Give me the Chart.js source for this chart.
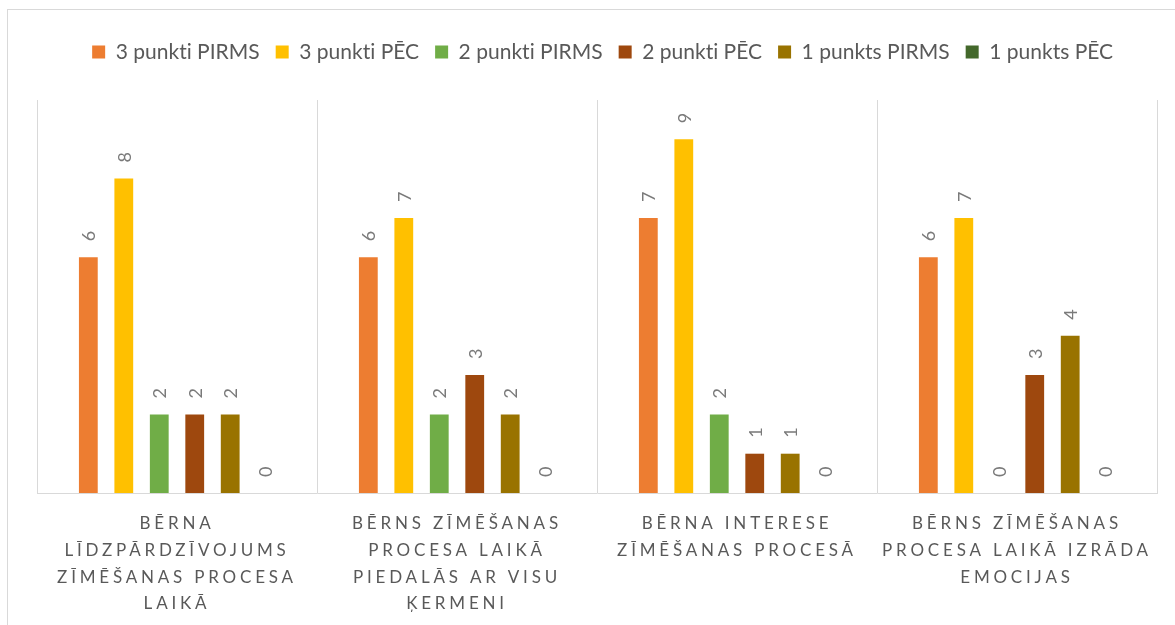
<!DOCTYPE html>
<html>
<head>
<meta charset="utf-8">
<script src="https://cdn.jsdelivr.net/npm/chart.js@4/dist/chart.umd.min.js"></script>
<style>
  html, body { margin: 0; padding: 0; background: #fff; }
  #frame {
    position: absolute; left: 7px; top: 9px; width: 1200px; height: 650px;
    border-left: 1px solid #d9d9d9; border-top: 1px solid #d9d9d9;
  }
  #wrap { position: absolute; left: 0; top: 0; width: 1175px; height: 625px; }
</style>
</head>
<body>
<div id="frame"></div>
<div id="wrap"><canvas id="chart" width="1175" height="625"></canvas></div>
<script>
  // categories (multi-line, as shown on the axis)
  var categories = [
    ['BĒRNA', 'LĪDZPĀRDZĪVOJUMS', 'ZĪMĒŠANAS PROCESA', 'LAIKĀ'],
    ['BĒRNS ZĪMĒŠANAS', 'PROCESA LAIKĀ', 'PIEDALĀS AR VISU', 'ĶERMENI'],
    ['BĒRNA INTERESE', 'ZĪMĒŠANAS PROCESĀ'],
    ['BĒRNS ZĪMĒŠANAS', 'PROCESA LAIKĀ IZRĀDA', 'EMOCIJAS']
  ];

  var seriesNames = ['3 punkti PIRMS', '3 punkti PĒC', '2 punkti PIRMS', '2 punkti PĒC', '1 punkts PIRMS', '1 punkts PĒC'];
  var seriesColors = ['#ED7D31', '#FFC000', '#70AD47', '#9E480E', '#997300', '#43682B'];

  var punkti3Pirms = [6, 6, 7, 6];
  var punkti3Pec = [8, 7, 9, 7];
  var punkti2Pirms = [2, 2, 2, 0];
  var punkti2Pec = [2, 3, 1, 3];
  var punkts1Pirms = [2, 2, 1, 4];
  var punkts1Pec = [0, 0, 0, 0];

  var seriesValues = [punkti3Pirms, punkti3Pec, punkti2Pirms, punkti2Pec, punkts1Pirms, punkts1Pec];

  var FONT = "Lato, 'Noto Sans', sans-serif";
  var TEXT = '#595959';

  // value labels, rotated, above each bar
  var barLabels = {
    id: 'barLabels',
    afterDatasetsDraw: function (chart) {
      var ctx = chart.ctx;
      ctx.save();
      ctx.font = '18px ' + FONT;
      ctx.fillStyle = '#7a7a7a';
      ctx.textAlign = 'left';
      ctx.textBaseline = 'middle';
      chart.data.datasets.forEach(function (ds, i) {
        var meta = chart.getDatasetMeta(i);
        meta.data.forEach(function (bar, j) {
          ctx.save();
          ctx.translate(bar.x + 1, bar.y - 16);
          ctx.rotate(-Math.PI / 2);
          ctx.fillText(String(ds.data[j]), 0, 0);
          ctx.restore();
        });
      });
      ctx.restore();
    }
  };

  // fixed legend height, small legend shift, letter spaced category labels
  var layoutTweaks = {
    id: 'layoutTweaks',
    beforeInit: function (chart) {
      var legend = chart.legend;
      var fit = legend.fit;
      var draw = legend.draw;
      legend.fit = function () {
        fit.call(legend);
        this.height = 74.5;
      };
      legend.draw = function () {
        var ctx = this.ctx;
        ctx.save();
        ctx.translate(6, 0);
        ctx.letterSpacing = '0.01px';
        draw.call(legend);
        ctx.restore();
      };
    },
    beforeDraw: function (chart) {
      var xs = chart.scales.x;
      if (xs && !xs._spaced) {
        var orig = xs.drawLabels;
        xs.drawLabels = function (area) {
          var ctx = this.ctx;
          ctx.save();
          ctx.letterSpacing = '3.8px';
          orig.call(this, area);
          ctx.restore();
        };
        xs._spaced = true;
      }
    }
  };

  var datasets = seriesNames.map(function (name, i) {
    return {
      label: name,
      data: seriesValues[i],
      backgroundColor: seriesColors[i],
      borderWidth: 0,
      categoryPercentage: 0.76,
      barPercentage: 0.53
    };
  });

  new Chart(document.getElementById('chart').getContext('2d'), {
    type: 'bar',
    data: { labels: categories, datasets: datasets },
    plugins: [barLabels, layoutTweaks],
    options: {
      responsive: false,
      animation: false,
      devicePixelRatio: 1,
      layout: { padding: { left: 37, right: 18, top: 25.5, bottom: 0 } },
      scales: {
        x: {
          grid: { color: '#d9d9d9', lineWidth: 1, drawTicks: false, offset: true },
          border: { color: '#d9d9d9', width: 1 },
          ticks: {
            color: TEXT,
            font: { family: FONT, size: 17, lineHeight: 1.58 },
            padding: 17,
            autoSkip: false,
            maxRotation: 0,
            minRotation: 0
          },
          afterFit: function (scale) { scale.height = 132; }
        },
        y: {
          display: false,
          min: 0,
          max: 10
        }
      },
      plugins: {
        legend: {
          position: 'top',
          labels: {
            color: TEXT,
            font: { family: FONT, size: 21 },
            boxWidth: 13,
            boxHeight: 13,
            padding: 16
          }
        },
        tooltip: { enabled: false }
      }
    }
  });
</script>
</body>
</html>
